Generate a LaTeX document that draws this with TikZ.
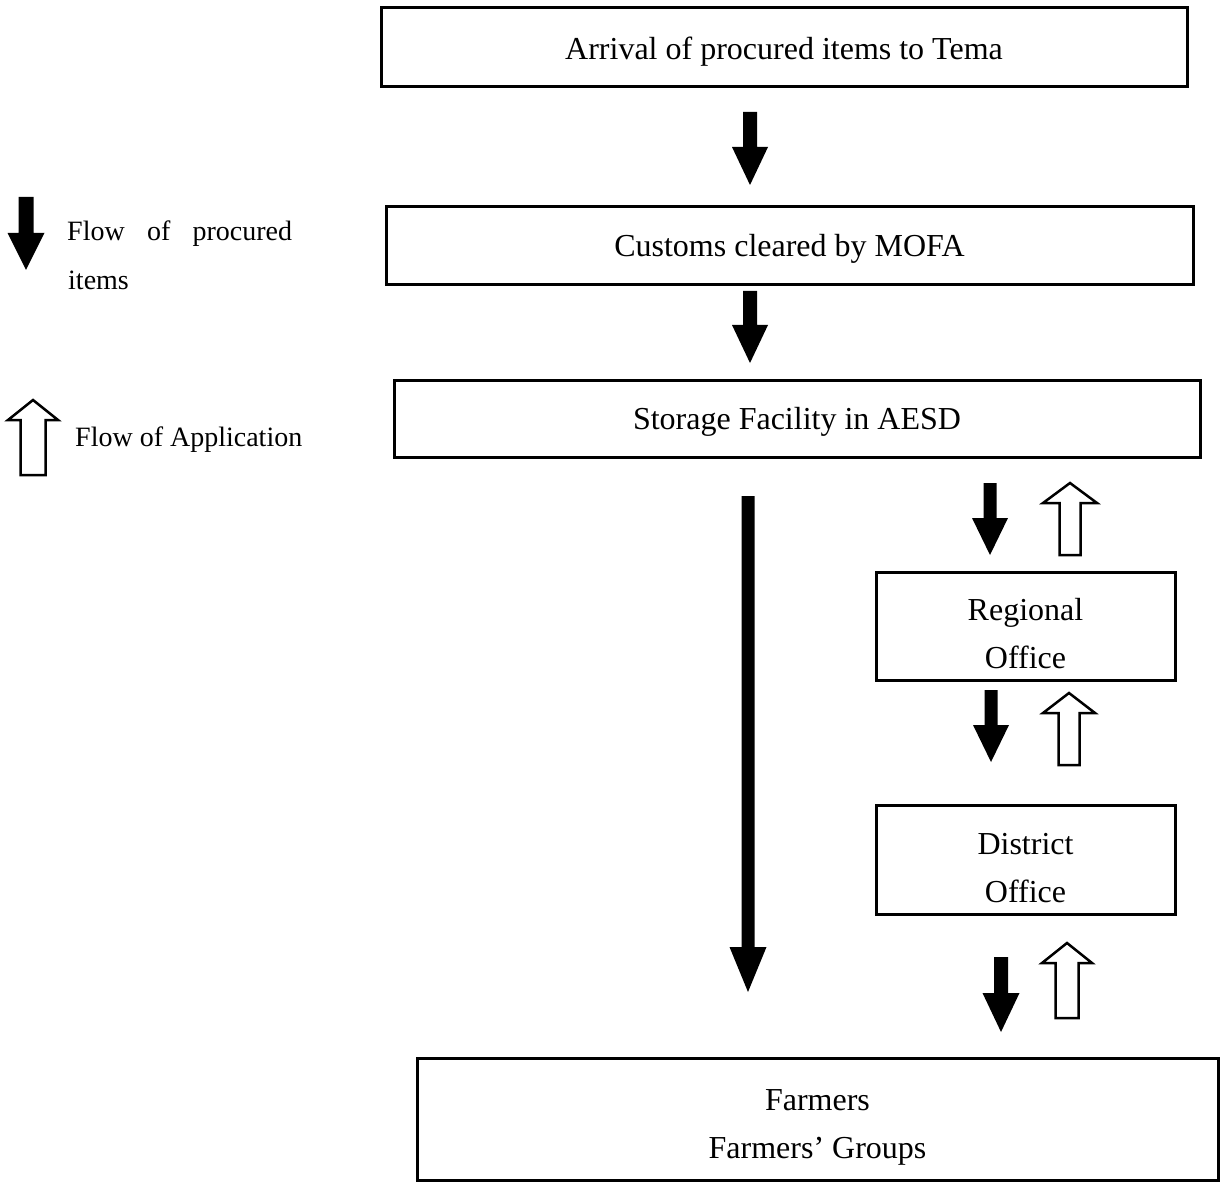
\documentclass[tikz,border=0pt]{standalone}
\usepackage{fontspec}
\setmainfont{Liberation Serif}

% Solid down arrow: x, y of shaft top, y of tip, half shaft width, half head width, head length
\newcommand\solidarrow[6]{%
  \fill[black] (#1-#4,#2) -- (#1+#4,#2) -- (#1+#4,#3-#6) -- (#1+#5,#3-#6)
    -- (#1,#3) -- (#1-#5,#3-#6) -- (#1-#4,#3-#6) -- cycle;}
% Hollow up arrow: x, y of tip, y of shaft bottom, half shaft width, half head width, head length
\newcommand\hollowarrow[6]{%
  \filldraw[fill=white, draw=black, line width=2.5, line join=miter]
    (#1-#4,#3) -- (#1+#4,#3) -- (#1+#4,#2+#6) -- (#1+#5,#2+#6)
    -- (#1,#2) -- (#1-#5,#2+#6) -- (#1-#4,#2+#6) -- cycle;}

\begin{document}
\begin{tikzpicture}[x=1pt, y=-1pt,
  stagebox/.style={draw=black, line width=3, fill=white, inner sep=0pt},
  stagetext/.style={inner sep=0pt, align=center, font=\fontsize{32}{48}\selectfont},
  legendtext/.style={inner sep=0pt, font=\fontsize{28}{40}\selectfont}]
\useasboundingbox (0,0) rectangle (1221,1182);

% Process stages: frames
\node[stagebox, minimum width=806, minimum height=79] (tema) at (784,47.5) {};
\node[stagebox, minimum width=807, minimum height=78] (customs) at (789.5,246) {};
\node[stagebox, minimum width=806, minimum height=77] (storage) at (797,418.5) {};
\node[stagebox, minimum width=299, minimum height=108] (regional) at (1025.5,626) {};
\node[stagebox, minimum width=299, minimum height=109] (district) at (1025.5,859.5) {};
\node[stagebox, minimum width=801, minimum height=122] (farmers) at (817.5,1119) {};

% Process stages: labels
\node[stagetext] (temaText) at ([yshift=-4pt]tema.center) {Arrival of procured items to Tema};
\node[stagetext] (customsText) at ([yshift=-3pt]customs.center) {Customs cleared by MOFA};
\node[stagetext] (storageText) at ([yshift=-3pt]storage.center) {Storage Facility in AESD};
\node[stagetext] (regionalText) at ([yshift=-8pt]regional.center) {Regional\\Office};
\node[stagetext] (districtText) at ([yshift=-9pt]district.center) {District\\Office};
\node[stagetext] (farmersText) at ([yshift=-8pt]farmers.center) {Farmers\\Farmers’ Groups};

% Flow of procured items
\solidarrow{750}{112}{185}{7}{18}{38}
\solidarrow{750}{291}{363}{7}{18}{38}
\solidarrow{748}{496}{992}{6.5}{18.5}{45}
\solidarrow{990}{483}{555}{6.5}{18}{37}
\solidarrow{991}{690}{762}{6.5}{18}{37}
\solidarrow{1001}{957}{1032}{7}{18.5}{39}

% Flow of application
\hollowarrow{1070}{483}{555}{10.5}{27}{20}
\hollowarrow{1069}{693}{765}{10.5}{26}{20}
\hollowarrow{1067}{943}{1018}{11.5}{25}{20}

% Legend
\solidarrow{26}{197}{270}{7.5}{18.5}{37}
\node[legendtext, anchor=base west] (legendA) at (67,241)
  {\makebox[225pt][s]{Flow of procured}};
\node[legendtext, anchor=base west] (legendB) at (68,290) {items};
\hollowarrow{33}{400}{475}{12.5}{25}{20}
\node[legendtext, anchor=base west] (legendC) at (75,446) {Flow of Application};
\end{tikzpicture}
\end{document}
